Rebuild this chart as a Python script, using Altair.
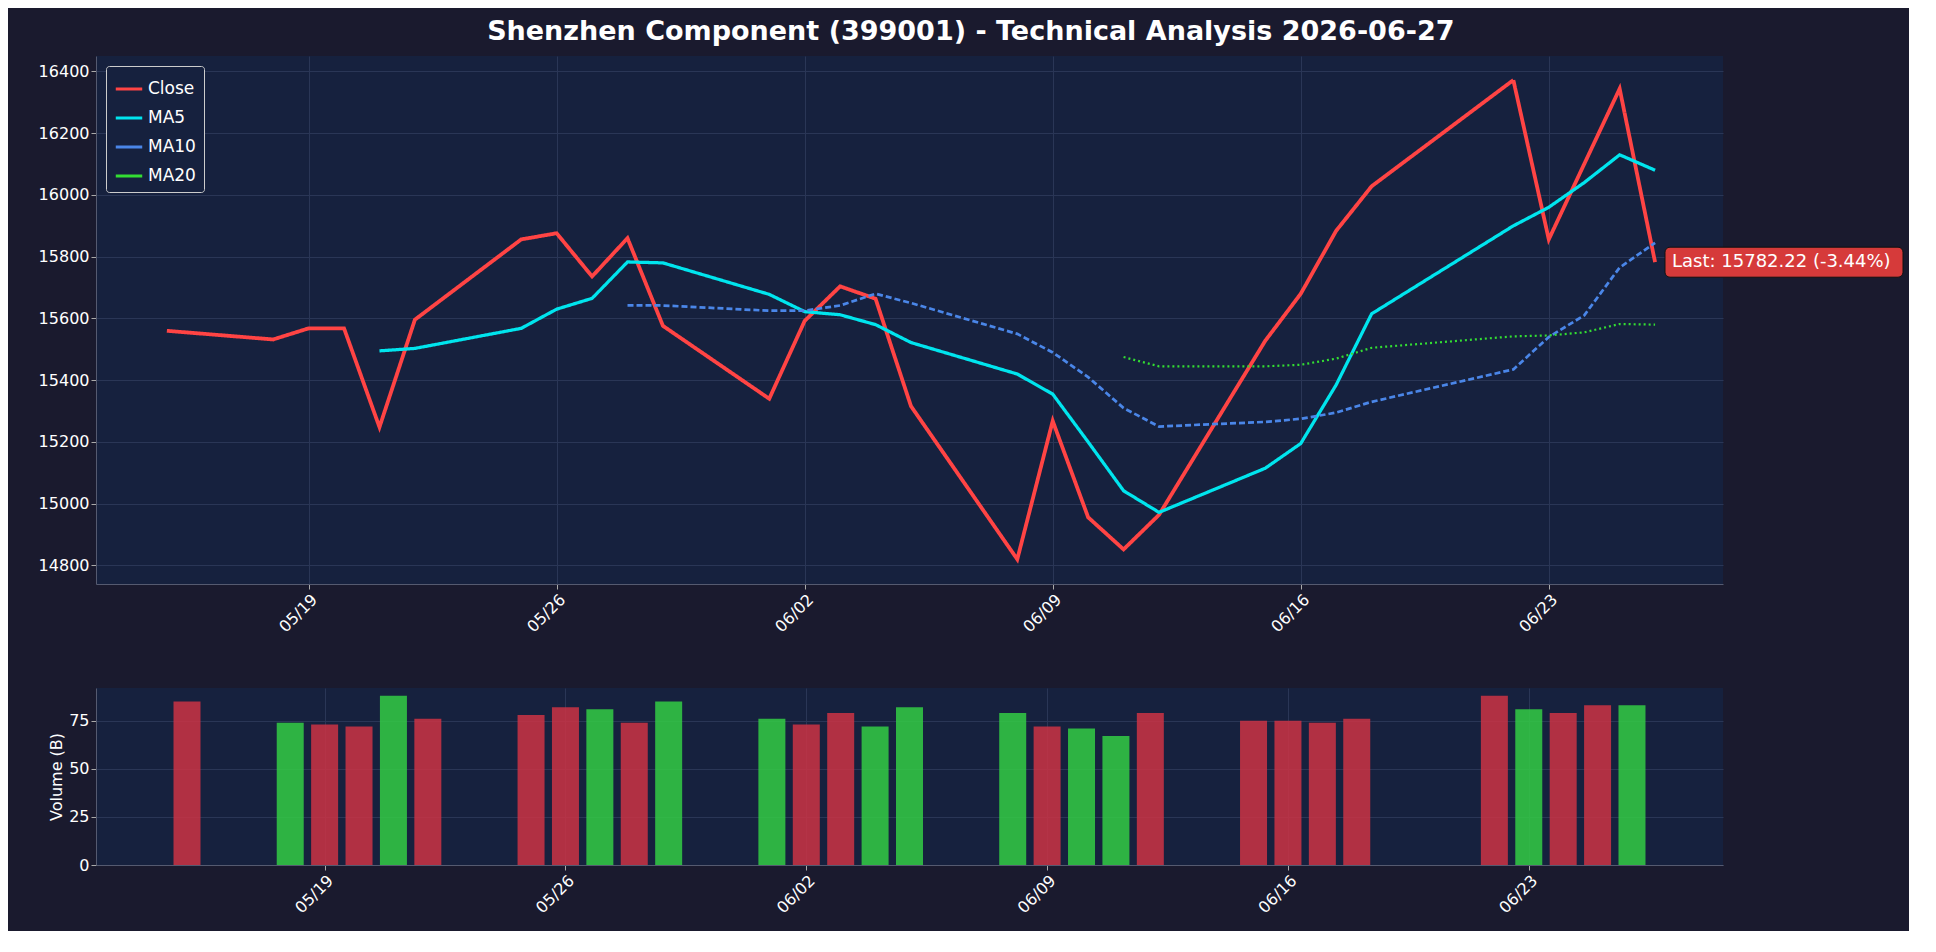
import altair as alt
import pandas as pd

dates = ["2026-05-15","2026-05-18","2026-05-19","2026-05-20","2026-05-21","2026-05-22",
         "2026-05-25","2026-05-26","2026-05-27","2026-05-28","2026-05-29",
         "2026-06-01","2026-06-02","2026-06-03","2026-06-04","2026-06-05",
         "2026-06-08","2026-06-09","2026-06-10","2026-06-11","2026-06-12",
         "2026-06-15","2026-06-16","2026-06-17","2026-06-18",
         "2026-06-22","2026-06-23","2026-06-24","2026-06-25","2026-06-26"]
close = [15560,15532,15568,15568,15248,15596,15856,15876,15736,15860,15576,
         15340,15592,15704,15664,15316,14820,15268,14956,14852,14964,
         15528,15680,15884,16028,16372,15856,16100,16344,15782.22]
ma5 = [None]*4 + [15495,15503,15568,15630,15665,15783,15780,15678,15622,15612,15580,15522,
       15420,15355,15200,15042,14972,15115,15195,15385,15615,15900,15960,16040,16130,16080]
ma10 = [None]*9 + [15642,15642,15625,15625,15642,15680,15650,15550,15490,15410,15310,15250,
        15265,15275,15295,15330,15435,15540,15610,15765,15845]
ma20 = [None]*19 + [15475,15445,15445,15450,15470,15505,15542,15545,15555,15582,15580]
volume = [85,74,73,72,88,76,78,82,81,74,85,76,73,79,72,82,79,72,71,67,79,
          75,75,74,76,88,81,79,83,83]
vol_up = ["d","u","d","d","u","d","d","d","u","d","u","u","d","d","u","u","u","d","u","u","d",
          "d","d","d","d","d","u","d","d","u"]

BG = "#1a1a2e"; PBG = "#16213e"; FG = "#ffffff"

rows = []
for name, arr in [("Close", close), ("MA5", ma5), ("MA10", ma10), ("MA20", ma20)]:
    for d, v in zip(dates, arr):
        if v is not None:
            rows.append({"date": d, "value": v, "series": name})
df = pd.DataFrame(rows)
vdf = pd.DataFrame({"date": dates, "vol": volume, "dir": vol_up})

W = 1627
xdom = ["2026-05-13T00:00:00Z", "2026-06-27T22:00:00Z"]
xvdom = ["2026-05-12T12:00:00Z", "2026-06-28T12:00:00Z"]
ticks = ["2026-05-19","2026-05-26","2026-06-02","2026-06-09","2026-06-16","2026-06-23"]
tickvals = [alt.DateTime(year=2026, month=int(t[5:7]), date=int(t[8:]), utc=True) for t in ticks]

def axis_x():
    return alt.Axis(title=None, values=tickvals, labelExpr="utcFormat(datum.value, '%m/%d')",
                    labelAngle=315, labelAlign="right", labelBaseline="top", labelFontSize=16,
                    labelColor=FG, gridColor="#2a3656", domainColor="#555a70", tickColor="#aaaaaa")

series = ["Close", "MA5", "MA10", "MA20"]
lines = alt.Chart(df).mark_line().encode(
    x=alt.X("date:T", scale=alt.Scale(domain=xdom, type="utc"), axis=axis_x()),
    y=alt.Y("value:Q", scale=alt.Scale(domain=[14740, 16450], nice=False),
            axis=alt.Axis(title=None, values=list(range(14800, 16401, 200)), format="d", labelFontSize=16,
                          labelColor=FG, gridColor="#2a3656", domainColor="#555a70", tickColor="#aaaaaa")),
    color=alt.Color("series:N", scale=alt.Scale(domain=series, range=["#ff4444", "#00e5ee", "#4a86e8", "#33dd33"]),
                    legend=alt.Legend(title=None, orient="none", legendX=10, legendY=10, fillColor=PBG,
                                      strokeColor="#cccccc", padding=8, labelFontSize=17, labelColor=FG,
                                      symbolType="stroke", symbolStrokeWidth=3, symbolSize=700,
                                      rowPadding=6, cornerRadius=3)),
    strokeDash=alt.StrokeDash("series:N", scale=alt.Scale(domain=series, range=[[1, 0], [1, 0], [6, 3], [2, 3]]),
                              legend=None),
    strokeWidth=alt.StrokeWidth("series:N", scale=alt.Scale(domain=series, range=[3.8, 2.2, 2.2, 2.2]), legend=None),
    order=alt.Order("date:T"),
)
lastdf = pd.DataFrame({"date": [dates[-1]], "value": [close[-1]], "label": ["Last: 15782.22 (-3.44%)"]})
box = alt.Chart(lastdf).mark_rect(color="#d63a3a", stroke="#111", cornerRadius=5, height=30, clip=False).encode(
    x=alt.value(W - 58), x2=alt.value(W + 180), y="value:Q")
txt = alt.Chart(lastdf).mark_text(align="left", fontSize=18, color=FG, clip=False).encode(
    x=alt.value(W - 51), y="value:Q", text="label:N")
top = alt.layer(lines, box, txt).properties(width=W, height=528, view=alt.ViewBackground(fill=PBG, stroke=None))

vol = alt.Chart(vdf).mark_bar(width=27, opacity=0.85).encode(
    x=alt.X("date:T", scale=alt.Scale(domain=xvdom, type="utc"), axis=axis_x()),
    y=alt.Y("vol:Q", scale=alt.Scale(domain=[0, 92], nice=False),
            axis=alt.Axis(title="Volume (B)", titleColor=FG, titleFontSize=16, titleFontWeight="normal",
                          values=[0, 25, 50, 75], labelFontSize=16, labelColor=FG,
                          gridColor="#2a3656", domainColor="#555a70", tickColor="#aaaaaa")),
    color=alt.Color("dir:N", scale=alt.Scale(domain=["u", "d"], range=["#33cc44", "#cc3344"]), legend=None),
).properties(width=W, height=177, view=alt.ViewBackground(fill=PBG, stroke=None))

chart = alt.vconcat(top, vol, spacing=53).resolve_scale(color="independent").properties(
    title=alt.Title("Shenzhen Component (399001) - Technical Analysis 2026-06-27", fontSize=27,
                    color=FG, anchor="middle", fontWeight="bold", offset=10),
    background=BG, padding={"left": 30, "top": 10, "right": 5, "bottom": 15},
).configure(font="DejaVu Sans").configure_axis(grid=True)

chart.save("out.html", embed_options={"renderer": "svg", "actions": False})
